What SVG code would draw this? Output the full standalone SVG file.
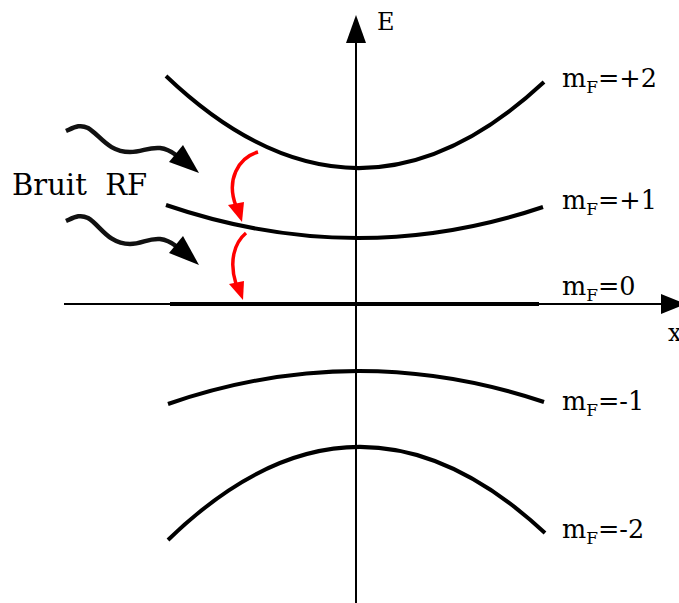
<svg xmlns="http://www.w3.org/2000/svg" width="679" height="603" viewBox="0 0 679 603">
<style>
.lvl{fill:none;stroke:#000;stroke-width:4}
.ax{fill:none;stroke:#000;stroke-width:2}
.t{font-family:"DejaVu Serif",serif;font-size:25.5px;fill:#000}
.sub{font-size:17px}
.wave{fill:none;stroke:#111;stroke-width:4.5}
.red{fill:none;stroke:#f00;stroke-width:3.5}
</style>
<rect width="679" height="603" fill="#fff"/>
<g id="axes">
<line class="ax" x1="356" y1="603" x2="356" y2="40"/>
<polygon points="346,43 366,43 356,15"/>
<line class="ax" x1="64" y1="304" x2="664" y2="304"/>
<polygon points="661,294 661,314 686,304"/>
<text class="t" x="377" y="30" style="font-size:24px">E</text>
<text class="t" x="668" y="341" style="font-size:24px">x</text>
</g>
<g id="mF2"><path class="lvl" d="M166,76 Q356,257 544,82"/><text class="t" x="562" y="87">m<tspan class="sub" dy="6">F</tspan><tspan dy="-6">=+2</tspan></text></g>
<g id="mF1"><path class="lvl" d="M166,205 Q356,270 543,207"/><text class="t" x="562" y="209">m<tspan class="sub" dy="6">F</tspan><tspan dy="-6">=+1</tspan></text></g>
<g id="mF0"><line class="lvl" x1="170" y1="304" x2="539" y2="304"/><text class="t" x="562" y="295">m<tspan class="sub" dy="6">F</tspan><tspan dy="-6">=0</tspan></text></g>
<g id="mFm1"><path class="lvl" d="M168,404 Q356,339 544,402"/><text class="t" x="562" y="410">m<tspan class="sub" dy="6">F</tspan><tspan dy="-6">=-1</tspan></text></g>
<g id="mFm2"><path class="lvl" d="M168,540 Q356,357.5 545,533"/><text class="t" x="562" y="538">m<tspan class="sub" dy="6">F</tspan><tspan dy="-6">=-2</tspan></text></g>
<g id="rf">
<text class="t" x="12" y="195" style="font-size:29px" xml:space="preserve">Bruit  RF</text>
</g>
<g id="connectors">
<path class="wave" d="M66,131 C75,127 80,124 88,128 C100,135 108,152 130,152 C142,152 148,147 160,148 C168,149 172,152 176,155"/>
<polygon points="169,162 183,145 199,173"/>
<path class="wave" d="M66,221 C75,217 80,214 88,218 C100,225 108,244 130,244 C142,244 148,238 160,239 C168,240 172,243 176,246"/>
<polygon points="169,253 183,236 199,265"/>
<path class="red" d="M258,152 C238,158 226,180 236,206"/>
<polygon fill="#f00" points="228,205 244,202 242,222"/>
<path class="red" d="M246,233 C234,243 229,262 236,284"/>
<polygon fill="#f00" points="229,284 244,281 243,300"/>
</g>
</svg>
